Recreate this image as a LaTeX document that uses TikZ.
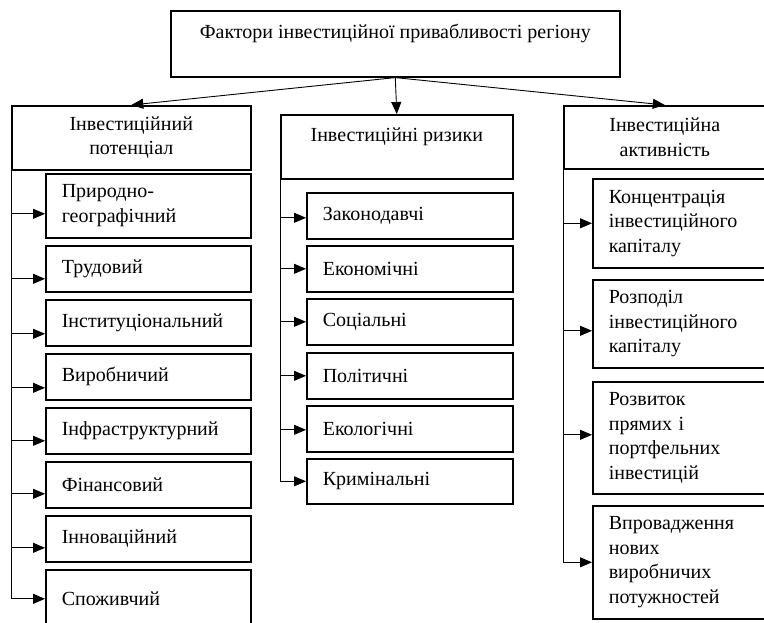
\documentclass[tikz,border=0pt]{standalone}
\usepackage{fontspec}
\setmainfont{Liberation Serif}
\usetikzlibrary{arrows.meta}
\begin{document}
\begin{tikzpicture}[x=1pt,y=-1pt,
  every node/.style={font=\fontsize{20}{24.5}\selectfont},
  box/.style={draw, line width=1.6pt, anchor=north west, inner ysep=0pt, align=center},
  sub/.style={draw, line width=1.6pt, anchor=north west, inner xsep=16pt, inner ysep=0pt, align=left},
  subL/.style={sub, text width=173pt},
  subM/.style={sub, text width=174pt},
  subR/.style={sub, text width=168pt},
  conn/.style={line width=0.9pt, -{Triangle[length=12pt,width=10pt]}}
]
\path[use as bounding box, clip] (0,0) rectangle (764,622);
\fill[white] (0,0) rectangle (764,622);

% top
\node[box, minimum width=449pt, minimum height=66pt] (top) at (170,10) {Фактори інвестиційної привабливості регіону\\ \mbox{}};

% headers
\node[box, minimum width=239pt, minimum height=64pt] (lh) at (11,105) {Інвестиційний\\потенціал};
\node[box, minimum width=232pt, minimum height=64pt] (mh) at (280,114) {Інвестиційні ризики\\ \mbox{}};
\node[box, minimum width=202pt, minimum height=63pt] (rh) at (563,105) {Інвестиційна\\активність};

% left column
\node[subL, minimum height=64pt] (l1) at (45,173) {Природно-\\географічний};
\node[subL, minimum height=46pt] (l2) at (45,245) {Трудовий};
\node[subL, minimum height=46pt] (l3) at (45,299) {Інституціональний};
\node[subL, minimum height=46pt] (l4) at (45,353) {Виробничий};
\node[subL, minimum height=46pt] (l5) at (45,407) {Інфраструктурний};
\node[subL, minimum height=46pt] (l6) at (45,461) {Фінансовий};
\node[subL, minimum height=46pt] (l7) at (45,515) {Інноваційний};
\node[subL, minimum height=58pt] (l8) at (45,569) {Споживчий};

% middle column
\node[subM, minimum height=46pt] (m1) at (306,192) {Законодавчі};
\node[subM, minimum height=46pt] (m2) at (306,245) {Економічні};
\node[subM, minimum height=46pt] (m3) at (306,298) {Соціальні};
\node[subM, minimum height=46pt] (m4) at (306,352) {Політичні};
\node[subM, minimum height=46pt] (m5) at (306,405) {Екологічні};
\node[subM, minimum height=45pt] (m6) at (306,458) {Кримінальні};

% right column
\node[subR, minimum height=89pt] (r1) at (592,178) {Концентрація\\інвестиційного\\капіталу};
\node[subR, minimum height=88pt] (r2) at (592,279) {Розподіл\\інвестиційного\\капіталу};
\node[subR, minimum height=112pt] (r3) at (592,381) {Розвиток\\прямих і\\портфельних\\інвестицій};
\node[subR, minimum height=113pt] (r4) at (592,505) {Впровадження\\нових\\виробничих\\потужностей};

% top connectors
\draw[conn] (top.south) -- (lh.north);
\draw[conn] (top.south) -- (mh.north);
\draw[conn] (top.south) -- (rh.north);

% left connectors
\draw[conn] (lh.west) |- ([yshift=-8pt]l1.west);
\draw[conn] (lh.west) |- ([yshift=-10pt]l2.west);
\draw[conn] (lh.west) |- ([yshift=-11pt]l3.west);
\draw[conn] (lh.west) |- ([yshift=-11pt]l4.west);
\draw[conn] (lh.west) |- ([yshift=-10pt]l5.west);
\draw[conn] (lh.west) |- ([yshift=-9pt]l6.west);
\draw[conn] (lh.west) |- ([yshift=-9pt]l7.west);
\draw[conn] (lh.west) |- ([yshift=0pt]l8.west);

% middle connectors
\draw[conn] (mh.west) |- ([yshift=-2pt]m1.west);
\draw[conn] (mh.west) |- (m2.west);
\draw[conn] (mh.west) |- (m3.west);
\draw[conn] (mh.west) |- (m4.west);
\draw[conn] (mh.west) |- ([yshift=-1pt]m5.west);
\draw[conn] (mh.west) |- (m6.west);

% right connectors
\draw[conn] (rh.west) |- (r1.west);
\draw[conn] (rh.west) |- ([yshift=-7pt]r2.west);
\draw[conn] (rh.west) |- ([yshift=3pt]r3.west);
\draw[conn] (rh.west) |- (r4.west);
\end{tikzpicture}
\end{document}
